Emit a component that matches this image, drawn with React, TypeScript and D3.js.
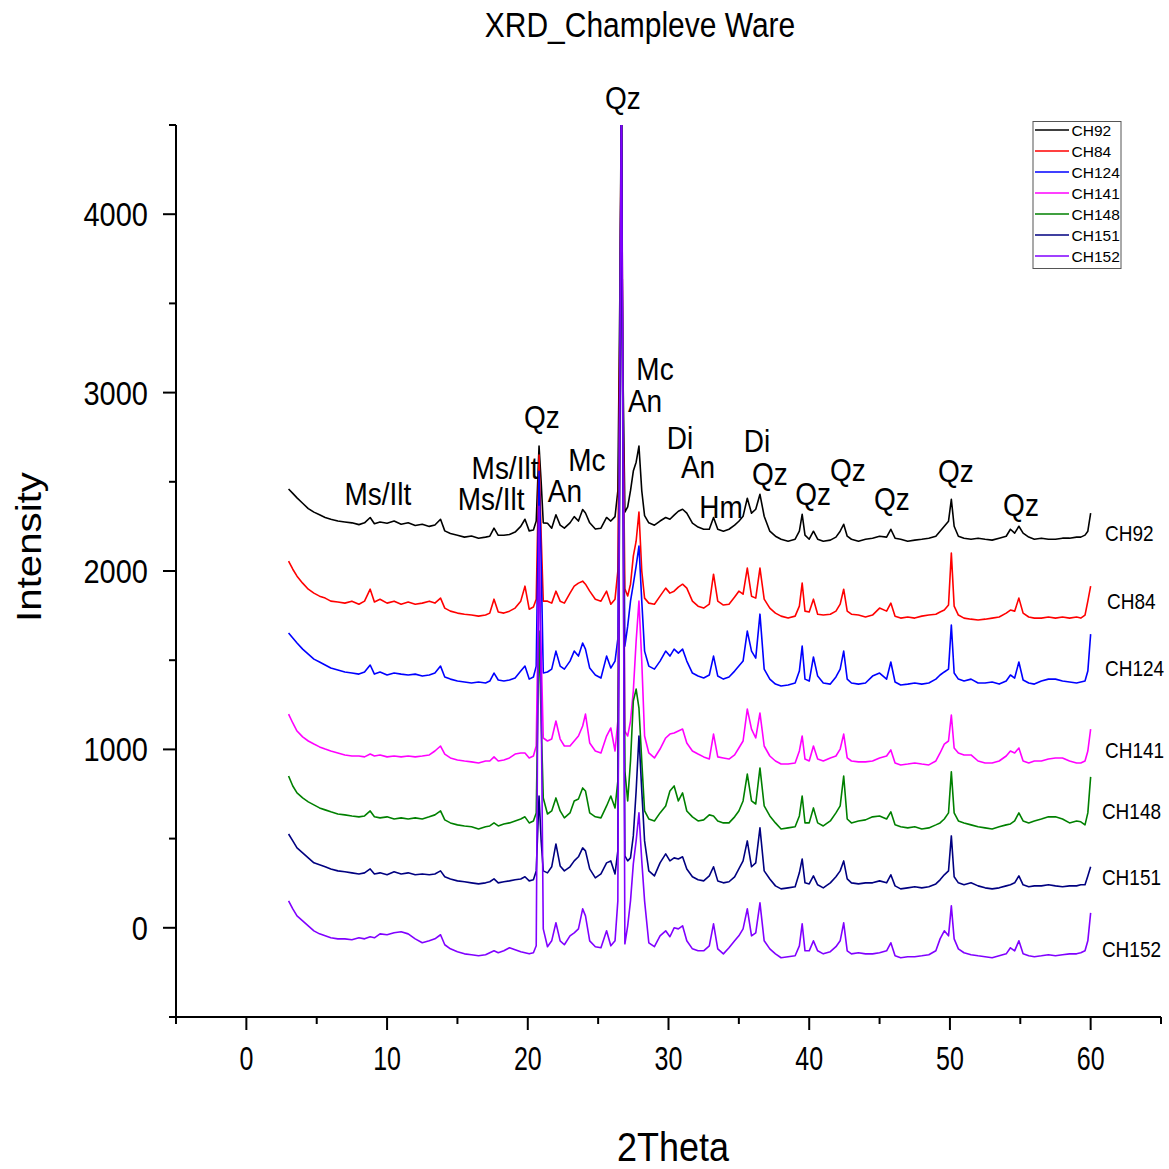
import React from "react";
import * as d3 from "d3";

// 2θ grid shared by all patterns (degrees)
const twoTheta = [
  3.0, 3.3, 3.6, 4.0, 4.4, 4.8, 5.2, 5.6, 6.0, 6.5,
  7.0, 7.5, 8.0, 8.4, 8.8, 9.1, 9.5, 10.0, 10.5, 11.0,
  11.5, 12.0, 12.5, 13.0, 13.4, 13.8, 14.1, 14.5, 15.0, 15.5,
  16.0, 16.5, 17.0, 17.3, 17.6, 17.9, 18.3, 18.7, 19.1, 19.5,
  19.8, 20.1, 20.4, 20.6, 20.8, 20.95, 21.1, 21.4, 21.7, 22.0,
  22.3, 22.6, 23.0, 23.3, 23.6, 23.9, 24.1, 24.4, 24.8, 25.2,
  25.6, 25.9, 26.2, 26.4, 26.55, 26.65, 26.75, 26.9, 27.1, 27.3,
  27.5, 27.7, 27.9, 28.1, 28.3, 28.6, 29.0, 29.4, 29.8, 30.1,
  30.4, 30.7, 31.0, 31.3, 31.7, 32.1, 32.5, 32.9, 33.2, 33.5,
  33.9, 34.3, 34.7, 35.0, 35.3, 35.6, 35.9, 36.2, 36.5, 36.8,
  37.2, 37.6, 38.0, 38.5, 39.0, 39.3, 39.5, 39.7, 40.0, 40.3,
  40.6, 41.0, 41.5, 41.9, 42.2, 42.45, 42.7, 43.0, 43.5, 44.0,
  44.5, 45.0, 45.5, 45.8, 46.1, 46.5, 47.0, 47.5, 48.0, 48.5,
  49.0, 49.3, 49.6, 49.9, 50.1, 50.3, 50.6, 51.0, 51.5, 52.0,
  52.5, 53.0, 53.5, 54.0, 54.3, 54.6, 54.9, 55.2, 55.6, 56.0,
  56.5, 57.0, 57.5, 58.0, 58.5, 59.0, 59.3, 59.6, 59.8, 60.0,
];

const ch92 = [
  2460, 2435, 2410, 2380, 2350, 2330, 2315, 2300, 2290, 2280,
  2275, 2270, 2260, 2270, 2300, 2265, 2275, 2268, 2280, 2262,
  2270, 2255, 2262, 2250, 2258, 2290, 2225, 2210, 2200, 2190,
  2196, 2184, 2190, 2195, 2240, 2200, 2200, 2205, 2218, 2250,
  2290, 2225, 2230, 2280, 2700, 2500, 2270, 2268, 2240, 2315,
  2257, 2240, 2270, 2305, 2280, 2345, 2325, 2270, 2235, 2240,
  2300, 2280, 2305, 2450, 3600, 4700, 3200, 2330, 2360, 2450,
  2560, 2610, 2700, 2450, 2310, 2270, 2257, 2280, 2300, 2290,
  2313, 2335, 2346, 2324, 2268, 2246, 2234, 2234, 2300, 2234,
  2223, 2234, 2257, 2279, 2307, 2408, 2324, 2346, 2430, 2307,
  2223, 2195, 2178, 2167, 2178, 2223, 2318, 2201, 2178, 2223,
  2178, 2167, 2173, 2190, 2223, 2262, 2195, 2178, 2167, 2178,
  2184, 2195, 2190, 2234, 2184, 2178, 2167, 2173, 2178, 2184,
  2195, 2223, 2251, 2279, 2402, 2251, 2195, 2184, 2178, 2184,
  2178, 2173, 2184, 2195, 2234, 2212, 2251, 2212, 2190, 2178,
  2184, 2178, 2178, 2184, 2184, 2190, 2190, 2201, 2223, 2325,
];

const ch84 = [
  2055, 2010, 1971, 1932, 1898, 1876, 1859, 1848, 1831, 1826,
  1820, 1831, 1814, 1831, 1898, 1826, 1842, 1820, 1831, 1814,
  1826, 1814, 1820, 1831, 1820, 1848, 1792, 1775, 1764, 1758,
  1753, 1747, 1753, 1764, 1842, 1770, 1764, 1775, 1792, 1831,
  1915, 1786, 1798, 1842, 2650, 2200, 1831, 1831, 1820, 1887,
  1831, 1820, 1876, 1915, 1932, 1943, 1926, 1887, 1842, 1831,
  1887, 1814, 1842, 2000, 3400, 4700, 3000, 1900, 1860, 1926,
  2083, 2167, 2330, 2000, 1848, 1820, 1814, 1859, 1904, 1876,
  1887, 1910, 1926, 1904, 1831, 1803, 1792, 1814, 1982, 1831,
  1809, 1814, 1854, 1887, 1870, 2016, 1859, 1848, 2016, 1842,
  1792, 1764, 1747, 1736, 1747, 1803, 1932, 1775, 1770, 1842,
  1758, 1753, 1758, 1775, 1814, 1898, 1775, 1758, 1753, 1742,
  1753, 1792, 1775, 1820, 1747, 1736, 1742, 1736, 1747, 1753,
  1758, 1770, 1781, 1809, 2100, 1803, 1753, 1736, 1730, 1725,
  1730, 1736, 1742, 1764, 1781, 1775, 1848, 1764, 1742, 1736,
  1736, 1742, 1736, 1742, 1736, 1742, 1736, 1753, 1831, 1915,
];

const ch124 = [
  1652, 1624, 1596, 1562, 1534, 1506, 1490, 1473, 1456, 1445,
  1434, 1428, 1422, 1434, 1473, 1422, 1434, 1417, 1428, 1422,
  1417, 1422, 1411, 1417, 1428, 1467, 1406, 1394, 1383, 1378,
  1372, 1378, 1372, 1383, 1428, 1389, 1383, 1389, 1400, 1439,
  1467, 1394, 1406, 1467, 2559, 2055, 1428, 1434, 1450, 1551,
  1467, 1450, 1495, 1551, 1523, 1596, 1562, 1456, 1417, 1400,
  1523, 1456, 1495, 1620, 3200, 4700, 2900, 1579, 1691, 1831,
  1926, 2027, 2140, 1831, 1551, 1467, 1450, 1495, 1551, 1523,
  1562, 1540, 1562, 1495, 1428, 1411, 1400, 1417, 1523, 1411,
  1394, 1406, 1439, 1467, 1495, 1663, 1551, 1512, 1758, 1450,
  1394, 1366, 1355, 1361, 1372, 1439, 1579, 1394, 1383, 1518,
  1411, 1372, 1366, 1406, 1450, 1551, 1394, 1372, 1366, 1372,
  1411, 1428, 1394, 1490, 1378, 1361, 1366, 1372, 1366, 1372,
  1394, 1417, 1434, 1450, 1697, 1428, 1394, 1383, 1394, 1372,
  1372, 1378, 1366, 1383, 1417, 1400, 1490, 1389, 1372, 1366,
  1383, 1394, 1394, 1383, 1378, 1372, 1378, 1383, 1439, 1646,
];

const ch141 = [
  1198, 1148, 1103, 1070, 1047, 1030, 1014, 1002, 991, 980,
  969, 963, 963, 958, 974, 963, 969, 958, 963, 958,
  963, 958, 963, 969, 991, 1019, 974, 952, 941, 935,
  930, 924, 935, 935, 958, 935, 941, 952, 974, 980,
  980, 952, 963, 1019, 2055, 1551, 1064, 1047, 1058, 1159,
  1058, 1019, 1019, 1047, 1075, 1131, 1198, 1036, 991, 980,
  1075, 1120, 991, 1159, 3000, 4700, 3300, 1103, 1075, 1159,
  1327, 1607, 1831, 1495, 1075, 980, 952, 1002, 1064, 1086,
  1092, 1103, 1114, 1036, 991, 974, 958, 946, 1086, 958,
  952, 946, 969, 1008, 1047, 1226, 1114, 1064, 1204, 1019,
  963, 935, 918, 918, 924, 991, 1075, 946, 935, 1019,
  946, 935, 952, 963, 1002, 1086, 952, 935, 930, 930,
  935, 952, 963, 997, 924, 913, 918, 924, 918, 913,
  935, 980, 1030, 1047, 1193, 1008, 980, 969, 969, 935,
  924, 924, 935, 963, 991, 980, 1008, 935, 924, 935,
  935, 946, 952, 952, 935, 924, 924, 935, 991, 1114,
];

const ch148 = [
  851, 795, 756, 728, 706, 689, 672, 661, 650, 638,
  633, 627, 622, 627, 655, 622, 616, 622, 610, 616,
  610, 616, 610, 622, 633, 655, 605, 588, 577, 571,
  566, 554, 566, 571, 588, 571, 582, 588, 599, 610,
  622, 588, 599, 644, 1663, 1159, 728, 638, 655, 728,
  655, 616, 644, 711, 722, 784, 767, 644, 622, 616,
  683, 739, 672, 823, 3100, 4700, 3000, 879, 711, 935,
  1271, 1338, 1232, 935, 655, 610, 599, 644, 683, 767,
  795, 711, 756, 655, 622, 599, 605, 633, 627, 599,
  588, 588, 622, 655, 711, 862, 711, 694, 896, 683,
  627, 588, 554, 560, 566, 627, 739, 588, 588, 672,
  588, 571, 599, 644, 683, 851, 610, 588, 599, 605,
  622, 627, 610, 650, 577, 566, 560, 566, 554, 560,
  577, 588, 610, 644, 874, 644, 599, 588, 577, 566,
  560, 554, 566, 577, 582, 599, 644, 599, 588, 599,
  610, 622, 622, 610, 588, 599, 594, 577, 644, 846,
];

const ch151 = [
  526, 487, 448, 420, 392, 364, 353, 342, 330, 319,
  314, 308, 302, 308, 330, 302, 308, 297, 314, 302,
  308, 297, 302, 297, 302, 319, 286, 274, 263, 258,
  252, 246, 252, 258, 274, 252, 258, 263, 269, 274,
  286, 263, 269, 319, 739, 487, 319, 308, 342, 470,
  347, 319, 342, 375, 398, 448, 431, 330, 280, 302,
  364, 375, 302, 431, 2900, 4700, 2800, 403, 375, 392,
  515, 767, 1075, 767, 487, 319, 291, 364, 414, 375,
  392, 386, 398, 330, 286, 269, 263, 291, 342, 263,
  252, 258, 286, 330, 375, 487, 342, 364, 560, 319,
  274, 235, 218, 224, 230, 308, 386, 252, 246, 291,
  241, 224, 252, 286, 319, 375, 274, 252, 246, 252,
  252, 263, 252, 297, 235, 218, 224, 230, 224, 230,
  246, 269, 297, 319, 515, 286, 252, 241, 252, 235,
  224, 218, 224, 235, 241, 252, 291, 241, 230, 235,
  235, 241, 235, 230, 235, 235, 241, 241, 291, 342,
];

const ch152 = [
  151, 106, 67, 39, 11, -17, -34, -45, -56, -62,
  -62, -67, -56, -62, -50, -56, -34, -39, -28, -22,
  -34, -62, -84, -73, -62, -39, -95, -118, -134, -146,
  -151, -157, -151, -140, -129, -140, -129, -112, -123, -134,
  -140, -146, -140, -101, 2363, 1271, -6, -106, -73, 28,
  -73, -95, -45, -28, -6, 106, 67, -73, -106, -112,
  -17, -101, -73, 151, 3200, 4700, 3000, -90, 11, 151,
  358, 487, 644, 375, 151, -84, -106, -45, -17, -50,
  0, -6, 11, -73, -118, -129, -129, -101, 22, -118,
  -146, -112, -73, -45, -6, 106, -45, -28, 140, -73,
  -118, -146, -168, -162, -157, -101, 22, -129, -129, -73,
  -129, -146, -134, -106, -73, 28, -129, -146, -140, -146,
  -146, -140, -129, -84, -157, -168, -162, -162, -157, -151,
  -129, -62, -17, -45, 123, -62, -118, -140, -151, -157,
  -162, -168, -157, -146, -112, -129, -73, -146, -157, -162,
  -157, -151, -157, -151, -146, -146, -140, -129, -73, 84,
];

const seriesNames = ["CH92", "CH84", "CH124", "CH141", "CH148", "CH151", "CH152"];
const seriesValues = [ch92, ch84, ch124, ch141, ch148, ch151, ch152];
const seriesColors = ["#000000", "#ff0000", "#0000ff", "#ff00ff", "#008000", "#000080", "#8000ff"];

// right-hand trace labels: [2θ, intensity]
const seriesLabelX = [61.02, 61.16, 61.02, 61.02, 60.8, 60.8, 60.8];
const seriesLabelY = [2213, 1832, 1456, 997, 655, 285, -119];

// phase annotations: text, 2θ, intensity (label centre)
const phaseText = ["Ms/Ilt", "Ms/Ilt", "Ms/Ilt", "Qz", "An", "Mc", "Qz", "Mc", "An", "Di", "An", "Hm", "Di", "Qz", "Qz", "Qz", "Qz", "Qz", "Qz"];
const phaseX = [9.35, 18.38, 17.39, 21.0, 22.64, 24.2, 26.76, 29.04, 28.33, 30.82, 32.1, 33.73, 36.29, 37.21, 40.27, 42.75, 45.88, 50.43, 55.05];
const phaseY = [2437, 2583, 2409, 2869, 2454, 2628, 4657, 3138, 2958, 2751, 2588, 2364, 2734, 2549, 2437, 2572, 2409, 2566, 2375];

const xMajorTicks = [0, 10, 20, 30, 40, 50, 60];
const xMinorTicks = [-5, 5, 15, 25, 35, 45, 55, 65];
const yMajorTicks = [0, 1000, 2000, 3000, 4000];
const yMinorTicks = [-500, 500, 1500, 2500, 3500, 4500];

const FONT = "'Liberation Sans', Arial, Helvetica, sans-serif";
const W = 1169;
const H = 1169;
const L = 176, R = 1161, T = 125, B = 1017;

function SText(props: { x: number; y: number; size: number; stretch?: number; anchor?: string; children: any; fill?: string }) {
  const { x, y, size, stretch = 1.15, anchor = "middle", children, fill = "#000" } = props;
  return (
    <text transform={`translate(${x},${y}) scale(1,${stretch})`} fontSize={size} textAnchor={anchor as any} fontFamily={FONT} fill={fill}>
      {children}
    </text>
  );
}

export default function App() {
  const x = d3.scaleLinear().domain([-5, 65]).range([L, R]);
  const y = d3.scaleLinear().domain([-500, 4500]).range([B, T]);
  const line = d3
    .line<number>()
    .x((_, i) => x(twoTheta[i]))
    .y((d) => y(d));

  const major = 13;
  const minor = 7;

  return (
    <svg width={W} height={H} viewBox={`0 0 ${W} ${H}`} style={{ position: "absolute", left: 0, top: 0, background: "#fff" }}>
      <rect x={0} y={0} width={W} height={H} fill="#fff" />
      <defs>
        <clipPath id="plotclip">
          <rect x={L} y={T} width={R - L} height={B - T} />
        </clipPath>
      </defs>

      {/* title */}
      <SText x={640} y={37} size={30}>XRD_Champleve Ware</SText>

      {/* data */}
      <g clipPath="url(#plotclip)">
        {seriesValues.map((vals, si) => (
          <path key={seriesNames[si]} d={line(vals) || ""} fill="none" stroke={seriesColors[si]} strokeWidth={1.6} strokeLinejoin="round" />
        ))}
      </g>

      {/* axes */}
      <line x1={L} x2={L} y1={T} y2={B} stroke="#000" strokeWidth={2} />
      <line x1={L - 1} x2={R} y1={B} y2={B} stroke="#000" strokeWidth={2} />
      {yMajorTicks.map((t) => (
        <g key={"ym" + t}>
          <line x1={L - major} x2={L} y1={y(t)} y2={y(t)} stroke="#000" strokeWidth={2} />
          <SText x={148} y={y(t) + 12} size={29} anchor="end">{String(t)}</SText>
        </g>
      ))}
      {yMinorTicks.map((t) => (
        <line key={"yn" + t} x1={L - minor} x2={L} y1={y(t)} y2={y(t)} stroke="#000" strokeWidth={2} />
      ))}
      {xMajorTicks.map((t) => (
        <g key={"xm" + t}>
          <line x1={x(t)} x2={x(t)} y1={B} y2={B + major} stroke="#000" strokeWidth={2} />
          <SText x={x(t)} y={1070} size={25} stretch={1.3}>{String(t)}</SText>
        </g>
      ))}
      {xMinorTicks.map((t) => (
        <line key={"xn" + t} x1={x(t)} x2={x(t)} y1={B} y2={B + minor} stroke="#000" strokeWidth={2} />
      ))}

      {/* axis titles */}
      <SText x={673} y={1161} size={36} stretch={1.12}>2Theta</SText>
      <text transform={`translate(40.5,547) rotate(-90) scale(1.15,1)`} fontSize={35} textAnchor="middle" fontFamily={FONT}>
        Intensity
      </text>

      {/* phase annotations */}
      {phaseText.map((t, i) => (
        <SText key={"ph" + i} x={x(phaseX[i])} y={y(phaseY[i]) + 11.6} size={28}>{t}</SText>
      ))}

      {/* trace labels */}
      {seriesNames.map((n, i) => (
        <SText key={"sl" + n} x={x(seriesLabelX[i])} y={y(seriesLabelY[i]) + 7.9} size={19} anchor="start">{n}</SText>
      ))}

      {/* legend */}
      <g>
        <rect x={1033} y={121.5} width={88} height={147} fill="#fff" stroke="#555" strokeWidth={1} />
        {seriesNames.map((n, i) => {
          const cy = 130 + i * 21;
          return (
            <g key={"lg" + n}>
              <line x1={1035} x2={1069} y1={cy} y2={cy} stroke={seriesColors[i]} strokeWidth={1.4} />
              <text x={1071.5} y={cy + 5.5} fontSize={15.5} fontFamily={FONT} fill="#000">{n}</text>
            </g>
          );
        })}
      </g>
    </svg>
  );
}
